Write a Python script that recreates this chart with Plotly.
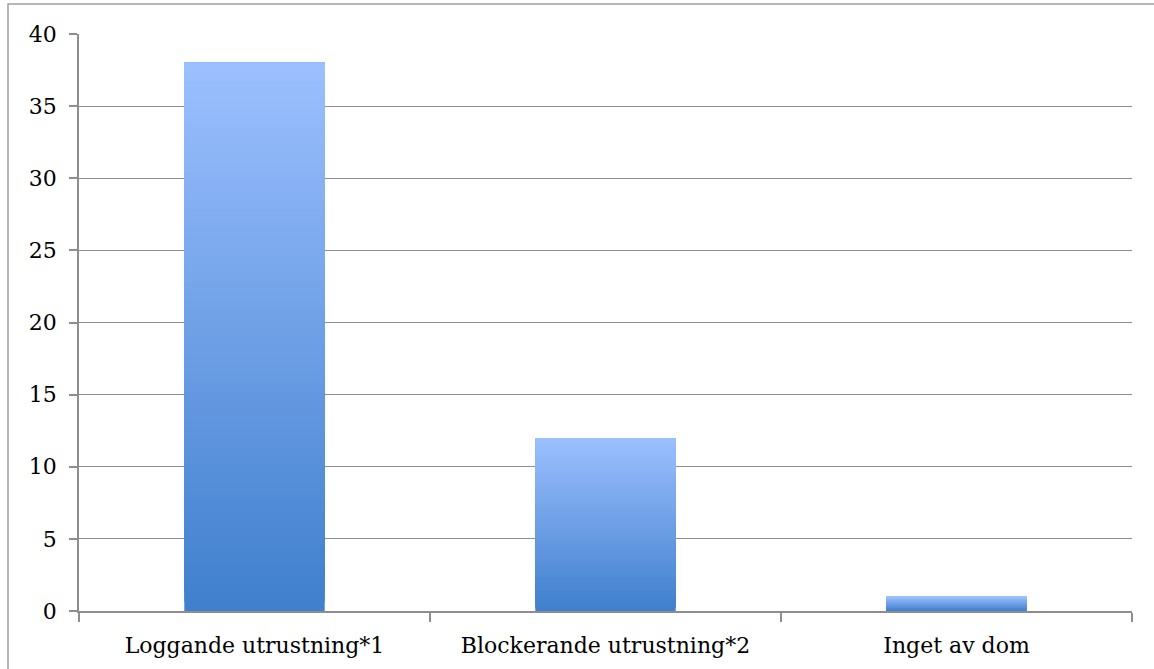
import plotly.graph_objects as go

categories = ["Loggande utrustning*1", "Blockerande utrustning*2", "Inget av dom"]
values = [38, 12, 1]
y_ticks = [0, 5, 10, 15, 20, 25, 30, 35, 40]

top_rgb = (156, 192, 255)
bottom_rgb = (63, 127, 205)
N = 60

fig = go.Figure()
for i in range(N):
    t = (i + 0.5) / N
    c = tuple(round(bottom_rgb[k] + (top_rgb[k] - bottom_rgb[k]) * t) for k in range(3))
    fig.add_trace(go.Bar(
        x=categories,
        y=[v * (N - i) / N for v in values],
        base=[v * i / N for v in values],
        marker=dict(color="rgb(%d,%d,%d)" % c, line=dict(width=0)),
        width=0.4,
        showlegend=False,
        hoverinfo="skip",
    ))

grid = "#8e8e8e"
fig.update_layout(
    barmode="overlay",
    width=1154, height=669,
    margin=dict(l=79, r=22, t=34, b=58),
    paper_bgcolor="white", plot_bgcolor="white",
    font=dict(family="DejaVu Serif", size=22, color="black"),
    xaxis=dict(
        showgrid=False, showline=True, linecolor=grid, linewidth=1.5,
        ticks="outside", tickson="boundaries", ticklen=9, tickcolor=grid, tickwidth=1.5,
        ticklabelstandoff=14,
    ),
    yaxis=dict(
        range=[0, 40], tickvals=y_ticks, showgrid=True, gridcolor=grid, gridwidth=1.3,
        showline=True, linecolor=grid, linewidth=1.5, zeroline=False,
        ticks="outside", ticklen=8, tickcolor=grid, tickwidth=1.5,
        ticklabelstandoff=8,
    ),
    shapes=[dict(type="rect", xref="paper", yref="paper",
                 x0=-71 / 1053, x1=1.2, y0=-0.3, y1=1 + 30 / 577,
                 line=dict(color="#a0a0a0", width=1.5), layer="below")],
)
fig.write_html("out.html", config={"displayModeBar": False},
               post_script="document.body.style.margin='0';")
